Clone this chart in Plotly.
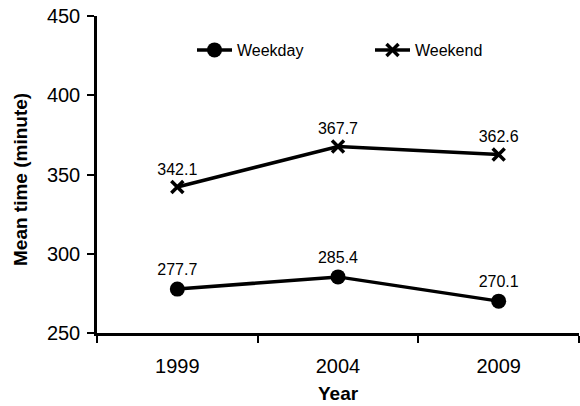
import plotly.graph_objects as go

years = ["1999", "2004", "2009"]
weekday = [277.7, 285.4, 270.1]
weekend = [342.1, 367.7, 362.6]
y_ticks = [250, 300, 350, 400, 450]

FONT = "Liberation Sans, Arial, sans-serif"

fig = go.Figure()
fig.add_trace(go.Scatter(
    x=years, y=weekday, name="Weekday", mode="lines+markers+text",
    text=[f"{v:.1f}" for v in weekday], textposition="top center",
    textfont=dict(size=16, color="black", family=FONT),
    line=dict(color="black", width=3.5),
    marker=dict(symbol="circle", size=15, color="black"),
    legend="legend",
))
fig.add_trace(go.Scatter(
    x=years, y=weekend, name="Weekend", mode="lines+markers+text",
    text=[f"{v:.1f}" for v in weekend], textposition="top center",
    textfont=dict(size=16, color="black", family=FONT),
    line=dict(color="black", width=3.5),
    marker=dict(symbol="x-thin", size=12, color="black",
                line=dict(color="black", width=3.5)),
    legend="legend2",
))

leg_common = dict(
    orientation="h", yanchor="middle", xanchor="left", y=(333 - 50) / 317,
    font=dict(size=16, family=FONT, color="black"),
    bgcolor="rgba(0,0,0,0)", borderwidth=0, itemwidth=35,
)

fig.update_layout(
    width=580, height=406,
    margin=dict(l=97, r=1, t=16, b=73, autoexpand=False),
    paper_bgcolor="white", plot_bgcolor="white",
    font=dict(family=FONT, color="black"),
    showlegend=True,
    legend=dict(x=(192 - 97) / 482, **leg_common),
    legend2=dict(x=(370 - 97) / 482, **leg_common),
    xaxis=dict(
        type="category", tickson="boundaries", ticks="outside", ticklen=7,
        tickwidth=2, tickcolor="black", automargin=False,
        showline=True, linecolor="black", linewidth=2.5, showgrid=False,
        tickfont=dict(size=20, family=FONT), ticklabeloverflow="allow",
        ticklabelstandoff=13,
        range=[-0.5, 2.5],
    ),
    yaxis=dict(
        range=[250, 450], tickvals=y_ticks, ticks="outside", ticklen=7,
        tickwidth=2, tickcolor="black", automargin=False,
        showline=True, linecolor="black", linewidth=2.5, showgrid=False,
        zeroline=False, ticklabeloverflow="allow", ticklabelstandoff=3,
        tickfont=dict(size=20, family=FONT),
    ),
    annotations=[
        dict(text="<b>Year</b>", xref="paper", yref="paper", x=0.5,
             y=(333 - 405) / 317, borderpad=0,
             yanchor="bottom", showarrow=False, font=dict(size=19, family=FONT)),
        dict(text="<b>Mean time (minute)</b>", xref="paper", yref="paper",
             x=(20 - 97) / 482, y=(333 - 180) / 317, textangle=-90,
             xanchor="center", yanchor="middle", showarrow=False,
             font=dict(size=19, family=FONT)),
    ],
)

fig.write_html("out.html", config={"displayModeBar": False},
               post_script="document.body.style.margin='0';document.body.style.padding='0';")
